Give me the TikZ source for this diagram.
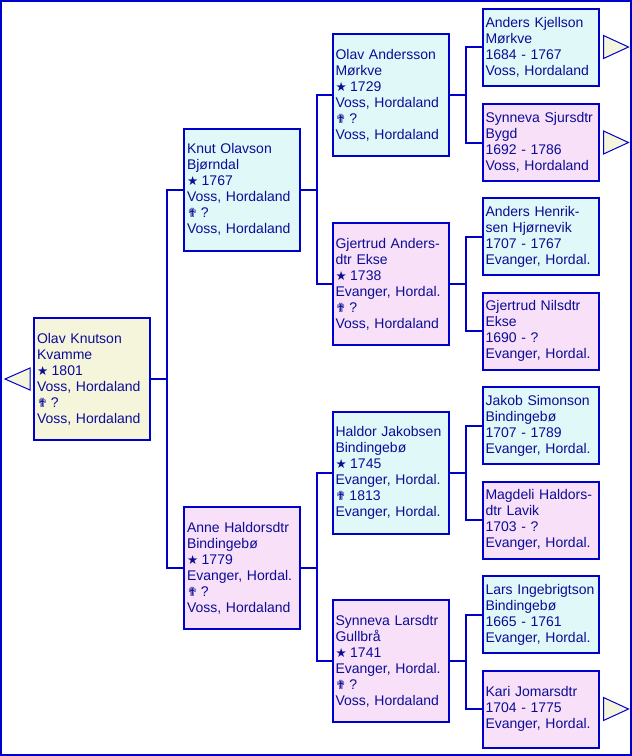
\documentclass[tikz,border=0pt]{standalone}
\usepackage{fontspec}
\setmainfont{Liberation Sans}
\newfontfamily\symfont{DejaVu Sans}
\usetikzlibrary{calc}
\definecolor{lineblue}{RGB}{0,0,204}
\definecolor{txtblue}{RGB}{12,12,150}
\definecolor{malefill}{RGB}{224,248,248}
\definecolor{femfill}{RGB}{248,224,248}
\definecolor{rootfill}{RGB}{245,245,220}
\newcommand{\bsym}{{\symfont\fontsize{12.5}{12}\selectfont ★}\hspace{3.5pt}}
\newcommand{\dsym}{{\symfont\fontsize{12.5}{12}\selectfont ✟}\hspace{3.5pt}}
\begin{document}
\begin{tikzpicture}[x=1pt,y=-1pt,
  person/.style={draw=lineblue, line width=2pt, rectangle, minimum width=116pt,
    text width=110pt, inner xsep=3pt, inner ysep=0pt, align=left, text=txtblue,
    font=\fontsize{14}{16}\selectfont},
  big/.style={person, minimum height=122pt},
  small/.style={person, minimum height=77pt},
  male/.style={fill=malefill},
  female/.style={fill=femfill},
  rootp/.style={fill=rootfill},
  conn/.style={draw=lineblue, line width=2pt},
  more/.style={draw=lineblue, line width=1pt, fill=rootfill, line join=miter},
]
\useasboundingbox (0,0) rectangle (632,756);
\draw[lineblue, line width=2pt] (1,1) rectangle (630.5,754.5);

% generation 0
\node[big, rootp] (root) at (92,379) {Olav Knutson\\Kvamme\\\bsym 1801\\Voss, Hordaland\\\dsym ?\\Voss, Hordaland};

% generation 1
\node[big, male] (knut) at (242,189.5) {Knut Olavson\\Bjørndal\\\bsym 1767\\Voss, Hordaland\\\dsym ?\\Voss, Hordaland};
\node[big, female] (anne) at (242,568) {Anne Haldorsdtr\\Bindingebø\\\bsym 1779\\Evanger, Hordal.\\\dsym ?\\Voss, Hordaland};

% generation 2
\node[big, male] (olav) at (390.5,95) {Olav Andersson\\Mørkve\\\bsym 1729\\Voss, Hordaland\\\dsym ?\\Voss, Hordaland};
\node[big, female] (gjertrudA) at (390.5,284) {Gjertrud Anders-\\dtr Ekse\\\bsym 1738\\Evanger, Hordal.\\\dsym ?\\Voss, Hordaland};
\node[big, male] (haldor) at (390.5,473) {Haldor Jakobsen\\Bindingebø\\\bsym 1745\\Evanger, Hordal.\\\dsym 1813\\Evanger, Hordal.};
\node[big, female] (synnevaL) at (390.5,661) {Synneva Larsdtr\\Gullbrå\\\bsym 1741\\Evanger, Hordal.\\\dsym ?\\Voss, Hordaland};

% generation 3
\node[small, male] (andersK) at (540.5,47) {Anders Kjellson\\Mørkve\\1684 - 1767\\Voss, Hordaland};
\node[small, female] (synnevaS) at (540.5,142.5) {Synneva Sjursdtr\\Bygd\\1692 - 1786\\Voss, Hordaland};
\node[small, male] (andersH) at (540.5,236.5) {Anders Henrik-\\sen Hjørnevik\\1707 - 1767\\Evanger, Hordal.};
\node[small, female] (gjertrudN) at (540.5,331) {Gjertrud Nilsdtr\\Ekse\\1690 - ?\\Evanger, Hordal.};
\node[small, male] (jakob) at (540.5,425.5) {Jakob Simonson\\Bindingebø\\1707 - 1789\\Evanger, Hordal.};
\node[small, female] (magdeli) at (540.5,520) {Magdeli Haldors-\\dtr Lavik\\1703 - ?\\Evanger, Hordal.};
\node[small, male] (lars) at (540.5,614.5) {Lars Ingebrigtson\\Bindingebø\\1665 - 1761\\Evanger, Hordal.};
\node[small, female] (kari) at (540.5,709) {Kari Jomarsdtr\\1704 - 1775\\Evanger, Hordal.};

% connectors
\foreach \p/\c in {root/knut, root/anne, knut/olav, knut/gjertrudA, anne/haldor, anne/synnevaL,
  olav/andersK, olav/synnevaS, gjertrudA/andersH, gjertrudA/gjertrudN,
  haldor/jakob, haldor/magdeli, synnevaL/lars, synnevaL/kari}
  \draw[conn] (\p.east) -- ++(16,0) |- (\c.west);

% "more ancestors" markers
\draw[more] ([xshift=-3pt,yshift=11pt]root.west) -- ([xshift=-3pt,yshift=-11pt]root.west) -- ([xshift=-28pt]root.west) -- cycle;
\foreach \n in {andersK, synnevaS, kari}
  \draw[more] ([xshift=4pt,yshift=11.5pt]\n.east) -- ([xshift=4pt,yshift=-11.5pt]\n.east) -- ([xshift=29pt]\n.east) -- cycle;
\end{tikzpicture}
\end{document}
